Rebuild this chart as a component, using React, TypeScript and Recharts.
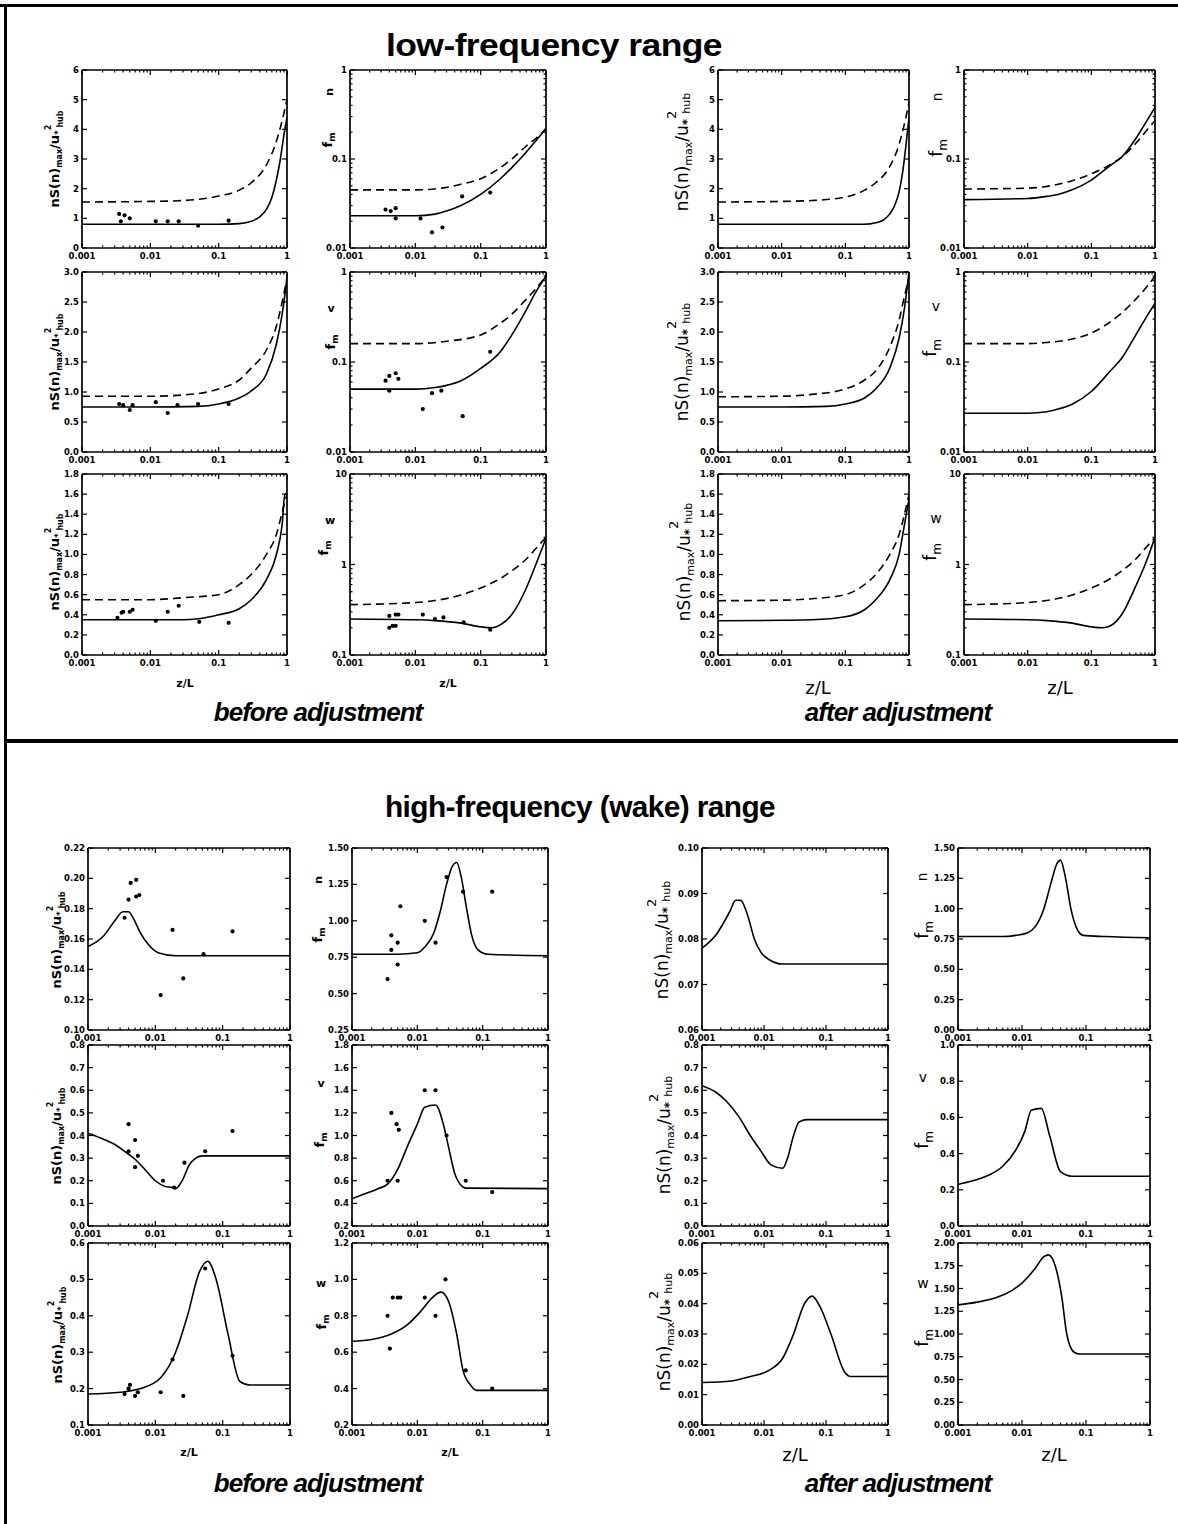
import React from 'react';
import { ComposedChart, Line, Scatter, XAxis, YAxis } from 'recharts';

type Pair = [number, number];

// ---------- axis tick labels ----------
const X_LABELS = ['0.001', '0.01', '0.1', '1'];
const Y_NS_U_LF = ['0', '1', '2', '3', '4', '5', '6'];
const Y_NS_V_LF = ['0.0', '0.5', '1.0', '1.5', '2.0', '2.5', '3.0'];
const Y_NS_W_LF = ['0.0', '0.2', '0.4', '0.6', '0.8', '1.0', '1.2', '1.4', '1.6', '1.8'];
const Y_FM_UV_LF = ['0.01', '0.1', '1'];
const Y_FM_W_LF = ['0.1', '1', '10'];
const Y_NS_U_HF_B = ['0.10', '0.12', '0.14', '0.16', '0.18', '0.20', '0.22'];
const Y_FM_U_HF_B = ['0.25', '0.50', '0.75', '1.00', '1.25', '1.50'];
const Y_NS_U_HF_A = ['0.06', '0.07', '0.08', '0.09', '0.10'];
const Y_FM_U_HF_A = ['0.00', '0.25', '0.50', '0.75', '1.00', '1.25', '1.50'];
const Y_NS_V_HF = ['0.0', '0.1', '0.2', '0.3', '0.4', '0.5', '0.6', '0.7', '0.8'];
const Y_FM_V_HF_B = ['0.2', '0.4', '0.6', '0.8', '1.0', '1.2', '1.4', '1.6', '1.8'];
const Y_FM_V_HF_A = ['0.0', '0.2', '0.4', '0.6', '0.8', '1.0'];
const Y_NS_W_HF_B = ['0.1', '0.2', '0.3', '0.4', '0.5', '0.6'];
const Y_FM_W_HF_B = ['0.2', '0.4', '0.6', '0.8', '1.0', '1.2'];
const Y_NS_W_HF_A = ['0.00', '0.01', '0.02', '0.03', '0.04', '0.05', '0.06'];
const Y_FM_W_HF_A = ['0.00', '0.25', '0.50', '0.75', '1.00', '1.25', '1.50', '1.75', '2.00'];

// ---------- low-frequency range, before adjustment ----------
const lfB_nsU_solid: Pair[] = [[0.001, 0.8], [0.01, 0.8], [0.1, 0.8], [0.2, 0.82], [0.3, 0.9], [0.4, 1.05], [0.5, 1.3], [0.6, 1.7], [0.7, 2.3], [0.8, 3.0], [0.9, 3.8], [1, 4.4]];
const lfB_nsU_dashed: Pair[] = [[0.001, 1.55], [0.01, 1.57], [0.03, 1.6], [0.1, 1.75], [0.2, 1.95], [0.3, 2.2], [0.5, 2.8], [0.7, 3.6], [0.85, 4.3], [1, 5.0]];
const lfB_nsU_dots: Pair[] = [[0.0035, 1.15], [0.0042, 1.1], [0.005, 1.0], [0.0037, 0.9], [0.012, 0.9], [0.018, 0.9], [0.026, 0.9], [0.05, 0.75], [0.14, 0.92]];

const lfB_fmU_solid: Pair[] = [[0.001, 0.023], [0.01, 0.023], [0.02, 0.024], [0.03, 0.026], [0.05, 0.03], [0.1, 0.04], [0.2, 0.06], [0.3, 0.08], [0.5, 0.12], [0.7, 0.16], [1, 0.22]];
const lfB_fmU_dashed: Pair[] = [[0.001, 0.045], [0.01, 0.045], [0.03, 0.048], [0.05, 0.052], [0.1, 0.06], [0.2, 0.08], [0.3, 0.1], [0.5, 0.14], [0.7, 0.17], [1, 0.22]];
const lfB_fmU_dots: Pair[] = [[0.0035, 0.027], [0.0042, 0.026], [0.005, 0.028], [0.005, 0.0215], [0.012, 0.0215], [0.018, 0.015], [0.026, 0.017], [0.052, 0.038], [0.14, 0.042]];

const lfB_nsV_solid: Pair[] = [[0.001, 0.75], [0.01, 0.75], [0.05, 0.76], [0.1, 0.8], [0.2, 0.9], [0.3, 1.02], [0.5, 1.3], [0.7, 1.8], [0.85, 2.3], [1, 2.9]];
const lfB_nsV_dashed: Pair[] = [[0.001, 0.93], [0.01, 0.93], [0.03, 0.95], [0.1, 1.05], [0.2, 1.2], [0.3, 1.4], [0.5, 1.7], [0.7, 2.1], [0.85, 2.5], [1, 2.9]];
const lfB_nsV_dots: Pair[] = [[0.0035, 0.8], [0.004, 0.78], [0.005, 0.7], [0.0055, 0.78], [0.012, 0.83], [0.018, 0.65], [0.025, 0.78], [0.05, 0.8], [0.14, 0.8]];

const lfB_fmV_solid: Pair[] = [[0.001, 0.05], [0.01, 0.05], [0.02, 0.052], [0.03, 0.055], [0.05, 0.062], [0.1, 0.085], [0.2, 0.13], [0.3, 0.2], [0.5, 0.38], [0.7, 0.6], [1, 0.9]];
const lfB_fmV_dashed: Pair[] = [[0.001, 0.16], [0.01, 0.16], [0.03, 0.17], [0.1, 0.2], [0.2, 0.27], [0.3, 0.34], [0.5, 0.5], [0.7, 0.65], [1, 0.9]];
const lfB_fmV_dots: Pair[] = [[0.0035, 0.062], [0.004, 0.07], [0.005, 0.075], [0.0055, 0.065], [0.004, 0.048], [0.013, 0.03], [0.018, 0.045], [0.025, 0.048], [0.053, 0.025], [0.14, 0.13]];

const lfB_nsW_solid: Pair[] = [[0.001, 0.35], [0.01, 0.35], [0.03, 0.35], [0.05, 0.36], [0.1, 0.4], [0.2, 0.46], [0.3, 0.55], [0.5, 0.75], [0.7, 1.0], [0.85, 1.3], [0.93, 1.6], [1, 1.6]];
const lfB_nsW_dashed: Pair[] = [[0.001, 0.55], [0.01, 0.55], [0.03, 0.57], [0.1, 0.6], [0.2, 0.7], [0.3, 0.8], [0.5, 1.0], [0.7, 1.2], [0.85, 1.42], [1, 1.6]];
const lfB_nsW_dots: Pair[] = [[0.0033, 0.37], [0.0038, 0.42], [0.004, 0.43], [0.005, 0.43], [0.0055, 0.45], [0.012, 0.34], [0.018, 0.43], [0.026, 0.49], [0.052, 0.33], [0.14, 0.32]];

const lfB_fmW_solid: Pair[] = [[0.001, 0.25], [0.01, 0.245], [0.02, 0.24], [0.05, 0.225], [0.1, 0.205], [0.15, 0.2], [0.2, 0.215], [0.3, 0.28], [0.5, 0.55], [0.7, 1.0], [1, 1.95]];
const lfB_fmW_dashed: Pair[] = [[0.001, 0.36], [0.01, 0.38], [0.02, 0.4], [0.05, 0.46], [0.1, 0.55], [0.2, 0.7], [0.3, 0.85], [0.5, 1.15], [0.7, 1.5], [1, 2.0]];
const lfB_fmW_dots: Pair[] = [[0.004, 0.27], [0.005, 0.28], [0.0055, 0.28], [0.004, 0.2], [0.0045, 0.21], [0.005, 0.21], [0.013, 0.28], [0.02, 0.25], [0.027, 0.26], [0.055, 0.23], [0.14, 0.19], [1, 0.98]];

// ---------- low-frequency range, after adjustment ----------
const lfA_nsU_solid: Pair[] = [[0.001, 0.8], [0.1, 0.8], [0.2, 0.8], [0.3, 0.85], [0.4, 0.95], [0.5, 1.15], [0.6, 1.45], [0.7, 1.9], [0.8, 2.6], [0.9, 3.5], [1, 4.4]];
const lfA_nsU_dashed: Pair[] = [[0.001, 1.55], [0.01, 1.57], [0.03, 1.6], [0.1, 1.72], [0.2, 1.95], [0.3, 2.2], [0.5, 2.75], [0.7, 3.5], [0.85, 4.2], [1, 4.9]];
const lfA_fmU_solid: Pair[] = [[0.001, 0.035], [0.01, 0.036], [0.02, 0.038], [0.03, 0.04], [0.05, 0.045], [0.1, 0.058], [0.2, 0.085], [0.3, 0.105], [0.5, 0.17], [0.7, 0.25], [1, 0.38]];
const lfA_fmU_dashed: Pair[] = [[0.001, 0.046], [0.01, 0.047], [0.03, 0.052], [0.05, 0.057], [0.1, 0.068], [0.2, 0.087], [0.3, 0.105], [0.5, 0.15], [0.7, 0.2], [1, 0.27]];
const lfA_nsV_solid: Pair[] = [[0.001, 0.75], [0.01, 0.75], [0.05, 0.76], [0.1, 0.8], [0.2, 0.9], [0.3, 1.05], [0.5, 1.4], [0.7, 1.9], [0.85, 2.4], [1, 3.0]];
const lfA_nsV_dashed: Pair[] = [[0.001, 0.92], [0.01, 0.93], [0.03, 0.96], [0.1, 1.05], [0.2, 1.2], [0.3, 1.35], [0.5, 1.75], [0.7, 2.2], [0.85, 2.6], [1, 2.9]];
const lfA_fmV_solid: Pair[] = [[0.001, 0.027], [0.01, 0.027], [0.02, 0.028], [0.03, 0.03], [0.05, 0.034], [0.1, 0.047], [0.2, 0.08], [0.3, 0.11], [0.5, 0.2], [0.7, 0.3], [1, 0.45]];
const lfA_fmV_dashed: Pair[] = [[0.001, 0.16], [0.01, 0.16], [0.02, 0.165], [0.05, 0.18], [0.1, 0.21], [0.2, 0.28], [0.3, 0.35], [0.5, 0.5], [0.7, 0.65], [1, 0.9]];
const lfA_nsW_solid: Pair[] = [[0.001, 0.34], [0.01, 0.345], [0.03, 0.35], [0.1, 0.38], [0.2, 0.45], [0.3, 0.55], [0.5, 0.75], [0.7, 1.0], [0.85, 1.3], [1, 1.55]];
const lfA_nsW_dashed: Pair[] = [[0.001, 0.54], [0.01, 0.545], [0.03, 0.56], [0.1, 0.6], [0.2, 0.7], [0.3, 0.8], [0.5, 1.0], [0.7, 1.2], [0.85, 1.4], [1, 1.6]];
const lfA_fmW_solid: Pair[] = [[0.001, 0.25], [0.01, 0.245], [0.02, 0.24], [0.05, 0.225], [0.1, 0.205], [0.15, 0.2], [0.2, 0.21], [0.3, 0.28], [0.5, 0.58], [0.7, 1.0], [1, 2.0]];
const lfA_fmW_dashed: Pair[] = [[0.001, 0.36], [0.01, 0.38], [0.02, 0.4], [0.05, 0.46], [0.1, 0.55], [0.2, 0.7], [0.3, 0.85], [0.5, 1.15], [0.7, 1.5], [1, 2.0]];

// ---------- high-frequency (wake) range, before adjustment ----------
const hfB_nsU_solid: Pair[] = [[0.001, 0.155], [0.0017, 0.162], [0.0025, 0.172], [0.0033, 0.178], [0.004, 0.178], [0.0048, 0.173], [0.006, 0.164], [0.008, 0.156], [0.011, 0.151], [0.02, 0.149], [0.1, 0.149], [1, 0.149]];
const hfB_nsU_dots: Pair[] = [[0.0035, 0.174], [0.004, 0.186], [0.0043, 0.197], [0.0052, 0.199], [0.0052, 0.188], [0.0058, 0.189], [0.012, 0.123], [0.018, 0.166], [0.026, 0.134], [0.052, 0.15], [0.14, 0.165]];
const hfB_fmU_solid: Pair[] = [[0.001, 0.77], [0.005, 0.77], [0.01, 0.78], [0.013, 0.82], [0.018, 0.92], [0.022, 1.05], [0.028, 1.25], [0.034, 1.37], [0.04, 1.4], [0.047, 1.3], [0.056, 1.1], [0.068, 0.9], [0.085, 0.8], [0.12, 0.77], [1, 0.76]];
const hfB_fmU_dots: Pair[] = [[0.0035, 0.6], [0.004, 0.8], [0.004, 0.9], [0.005, 0.7], [0.005, 0.85], [0.0055, 1.1], [0.013, 1.0], [0.019, 0.85], [0.028, 1.3], [0.05, 1.2], [0.14, 1.2]];
const hfB_nsV_solid: Pair[] = [[0.001, 0.41], [0.0015, 0.39], [0.0025, 0.36], [0.0035, 0.33], [0.005, 0.295], [0.007, 0.25], [0.01, 0.2], [0.014, 0.175], [0.018, 0.17], [0.02, 0.165], [0.025, 0.2], [0.032, 0.27], [0.04, 0.3], [0.05, 0.31], [1, 0.31]];
const hfB_nsV_dots: Pair[] = [[0.004, 0.45], [0.004, 0.33], [0.005, 0.38], [0.005, 0.26], [0.0055, 0.31], [0.013, 0.2], [0.019, 0.17], [0.027, 0.28], [0.055, 0.33], [0.14, 0.42]];
const hfB_fmV_solid: Pair[] = [[0.001, 0.44], [0.0015, 0.48], [0.0025, 0.53], [0.0035, 0.57], [0.005, 0.7], [0.007, 0.9], [0.01, 1.1], [0.013, 1.25], [0.019, 1.27], [0.025, 1.1], [0.03, 0.9], [0.038, 0.65], [0.045, 0.57], [0.055, 0.535], [1, 0.53]];
const hfB_fmV_dots: Pair[] = [[0.0035, 0.6], [0.004, 1.2], [0.0048, 1.1], [0.0052, 1.05], [0.005, 0.6], [0.013, 1.4], [0.019, 1.4], [0.028, 1.0], [0.055, 0.6], [0.14, 0.5]];
const hfB_nsW_solid: Pair[] = [[0.001, 0.185], [0.003, 0.19], [0.006, 0.2], [0.012, 0.23], [0.02, 0.3], [0.03, 0.4], [0.045, 0.52], [0.06, 0.55], [0.08, 0.5], [0.12, 0.35], [0.18, 0.22], [0.25, 0.21], [1, 0.21]];
const hfB_nsW_dots: Pair[] = [[0.0035, 0.185], [0.004, 0.2], [0.0042, 0.21], [0.005, 0.18], [0.0055, 0.19], [0.012, 0.19], [0.018, 0.28], [0.026, 0.18], [0.055, 0.53], [0.14, 0.29]];
const hfB_fmW_solid: Pair[] = [[0.001, 0.66], [0.002, 0.67], [0.004, 0.7], [0.007, 0.75], [0.011, 0.82], [0.017, 0.9], [0.023, 0.93], [0.03, 0.88], [0.04, 0.7], [0.05, 0.5], [0.065, 0.42], [0.08, 0.39], [1, 0.39]];
const hfB_fmW_dots: Pair[] = [[0.0035, 0.8], [0.0038, 0.62], [0.0042, 0.9], [0.005, 0.9], [0.0055, 0.9], [0.013, 0.9], [0.019, 0.8], [0.027, 1.0], [0.055, 0.5], [0.14, 0.4]];

// ---------- high-frequency (wake) range, after adjustment ----------
const hfA_nsU_solid: Pair[] = [[0.001, 0.078], [0.0017, 0.081], [0.0028, 0.086], [0.0035, 0.0885], [0.0042, 0.0885], [0.0055, 0.085], [0.007, 0.08], [0.009, 0.077], [0.012, 0.0755], [0.02, 0.0745], [1, 0.0745]];
const hfA_fmU_solid: Pair[] = [[0.001, 0.77], [0.005, 0.77], [0.008, 0.78], [0.012, 0.8], [0.016, 0.85], [0.022, 1.0], [0.028, 1.2], [0.035, 1.37], [0.04, 1.4], [0.048, 1.25], [0.058, 1.0], [0.07, 0.85], [0.09, 0.78], [0.2, 0.77], [1, 0.76]];
const hfA_nsV_solid: Pair[] = [[0.001, 0.62], [0.0017, 0.59], [0.0025, 0.55], [0.004, 0.48], [0.006, 0.4], [0.009, 0.33], [0.013, 0.27], [0.02, 0.255], [0.024, 0.3], [0.03, 0.4], [0.037, 0.46], [0.05, 0.47], [1, 0.47]];
const hfA_fmV_solid: Pair[] = [[0.001, 0.23], [0.0017, 0.25], [0.003, 0.28], [0.005, 0.33], [0.008, 0.42], [0.011, 0.52], [0.014, 0.64], [0.02, 0.65], [0.027, 0.5], [0.04, 0.3], [0.06, 0.275], [1, 0.275]];
const hfA_nsW_solid: Pair[] = [[0.001, 0.014], [0.003, 0.0145], [0.006, 0.016], [0.012, 0.018], [0.02, 0.022], [0.03, 0.03], [0.045, 0.04], [0.06, 0.0425], [0.08, 0.039], [0.12, 0.03], [0.2, 0.0175], [0.25, 0.016], [1, 0.016]];
const hfA_fmW_solid: Pair[] = [[0.001, 1.32], [0.002, 1.35], [0.004, 1.4], [0.007, 1.48], [0.01, 1.56], [0.016, 1.72], [0.022, 1.85], [0.026, 1.87], [0.033, 1.75], [0.042, 1.4], [0.05, 1.0], [0.065, 0.8], [0.08, 0.78], [1, 0.78]];

// ---------- helpers ----------
const toPts = (arr: Pair[]) => arr.map(([x, y]) => ({ x, y }));
const near = (a: number, b: number) => Math.abs(a - b) <= 1e-9 + 1e-6 * Math.abs(b);

function decadeTicks(lo: number, hi: number) {
  const out: number[] = [];
  const k0 = Math.round(Math.log10(lo));
  const k1 = Math.round(Math.log10(hi));
  for (let k = k0; k < k1; k++) {
    for (let m = 1; m < 10; m++) out.push(Number((m * Math.pow(10, k)).toPrecision(4)));
  }
  out.push(hi);
  return out;
}

const X_MAJOR = X_LABELS.map(Number);
const X_TICKS = decadeTicks(0.001, 1);
const AXIS = { stroke: '#000', strokeWidth: 1.7 };
const TICK_FONT = { fontFamily: 'DejaVu Sans', fontWeight: 700, fontSize: 8.5, fill: '#000' };

function FrameTick(props: any) {
  const { x, y, payload, side, majors, labels } = props;
  const v = Number(payload?.value);
  const i = majors.findIndex((m: number) => near(v, m));
  const len = i >= 0 ? 5 : 2.5;
  let x2 = x;
  let y2 = y;
  if (side === 'bottom') y2 = y - len;
  if (side === 'top') y2 = y + len;
  if (side === 'left') x2 = x + len;
  if (side === 'right') x2 = x - len;
  const label = labels && i >= 0 ? labels[i] : null;
  return (
    <g>
      <line x1={x} y1={y} x2={x2} y2={y2} stroke="#000" strokeWidth={1.2} />
      {label != null && side === 'bottom' && (
        <text x={x} y={y + 11} textAnchor="middle" {...TICK_FONT}>{label}</text>
      )}
      {label != null && side === 'left' && (
        <text x={x - 3} y={y + 3} textAnchor="end" {...TICK_FONT}>{label}</text>
      )}
    </g>
  );
}

const dotShape = (p: any) => <circle cx={p.cx} cy={p.cy} r={2.1} fill="#000" />;

interface PanelCfg {
  box: [number, number, number, number];
  yScale: 'linear' | 'log';
  yLabels: string[];
  solid: Pair[];
  dashed?: Pair[];
  dots?: Pair[];
}

const LW = 36;
const RW = 4;
const TH = 4;
const BH = 18;

function Panel({ cfg }: { cfg: PanelCfg }) {
  const [bx, by, bw, bh] = cfg.box;
  const majors = cfg.yLabels.map(Number);
  const domain = [majors[0], majors[majors.length - 1]];
  const yTicks = cfg.yScale === 'log' ? decadeTicks(domain[0], domain[1]) : majors;
  const common = { type: 'number' as const, allowDataOverflow: true, interval: 0 as const, tickSize: 0, tickMargin: 0, tickLine: false, axisLine: AXIS };
  return (
    <div style={{ position: 'absolute', left: bx - LW, top: by - TH }}>
      <ComposedChart width={bw + LW + RW} height={bh + TH + BH} margin={{ top: 0, right: 0, bottom: 0, left: 0 }}>
        <XAxis {...common} xAxisId="b" dataKey="x" scale="log" domain={[0.001, 1]} ticks={X_TICKS} height={BH}
          tick={(p: any) => <FrameTick {...p} side="bottom" majors={X_MAJOR} labels={X_LABELS} />} />
        <XAxis {...common} xAxisId="t" orientation="top" dataKey="x" scale="log" domain={[0.001, 1]} ticks={X_TICKS} height={TH}
          tick={(p: any) => <FrameTick {...p} side="top" majors={X_MAJOR} />} />
        <YAxis {...common} yAxisId="l" dataKey="y" scale={cfg.yScale} domain={domain} ticks={yTicks} width={LW}
          tick={(p: any) => <FrameTick {...p} side="left" majors={majors} labels={cfg.yLabels} />} />
        <YAxis {...common} yAxisId="r" orientation="right" dataKey="y" scale={cfg.yScale} domain={domain} ticks={yTicks} width={RW}
          tick={(p: any) => <FrameTick {...p} side="right" majors={majors} />} />
        {cfg.dashed && (
          <Line xAxisId="b" yAxisId="l" data={toPts(cfg.dashed)} dataKey="y" type="monotone" stroke="#000"
            strokeWidth={1.6} strokeDasharray="8 5" dot={false} activeDot={false} isAnimationActive={false} />
        )}
        <Line xAxisId="b" yAxisId="l" data={toPts(cfg.solid)} dataKey="y" type="monotone" stroke="#000"
          strokeWidth={1.6} dot={false} activeDot={false} isAnimationActive={false} />
        {cfg.dots && (
          <Scatter xAxisId="b" yAxisId="l" data={toPts(cfg.dots)} dataKey="y" shape={dotShape} isAnimationActive={false} />
        )}
      </ComposedChart>
    </div>
  );
}

// ---------- layout ----------
const LF_COLS = [[82, 205], [350, 196], [718, 191], [964, 191]];
const LF_ROWS = [[70, 178], [272, 180], [474, 181]];
const HF_COLS = [[88, 202], [352, 196], [702, 186], [958, 192]];
const HF_ROWS = [[848, 182], [1045, 181], [1243, 182]];

const box = (cols: number[][], rows: number[][], c: number, r: number): [number, number, number, number] =>
  [cols[c][0], rows[r][0], cols[c][1], rows[r][1]];

const PANELS: PanelCfg[] = [
  { box: box(LF_COLS, LF_ROWS, 0, 0), yScale: 'linear', yLabels: Y_NS_U_LF, solid: lfB_nsU_solid, dashed: lfB_nsU_dashed, dots: lfB_nsU_dots },
  { box: box(LF_COLS, LF_ROWS, 1, 0), yScale: 'log', yLabels: Y_FM_UV_LF, solid: lfB_fmU_solid, dashed: lfB_fmU_dashed, dots: lfB_fmU_dots },
  { box: box(LF_COLS, LF_ROWS, 2, 0), yScale: 'linear', yLabels: Y_NS_U_LF, solid: lfA_nsU_solid, dashed: lfA_nsU_dashed },
  { box: box(LF_COLS, LF_ROWS, 3, 0), yScale: 'log', yLabels: Y_FM_UV_LF, solid: lfA_fmU_solid, dashed: lfA_fmU_dashed },
  { box: box(LF_COLS, LF_ROWS, 0, 1), yScale: 'linear', yLabels: Y_NS_V_LF, solid: lfB_nsV_solid, dashed: lfB_nsV_dashed, dots: lfB_nsV_dots },
  { box: box(LF_COLS, LF_ROWS, 1, 1), yScale: 'log', yLabels: Y_FM_UV_LF, solid: lfB_fmV_solid, dashed: lfB_fmV_dashed, dots: lfB_fmV_dots },
  { box: box(LF_COLS, LF_ROWS, 2, 1), yScale: 'linear', yLabels: Y_NS_V_LF, solid: lfA_nsV_solid, dashed: lfA_nsV_dashed },
  { box: box(LF_COLS, LF_ROWS, 3, 1), yScale: 'log', yLabels: Y_FM_UV_LF, solid: lfA_fmV_solid, dashed: lfA_fmV_dashed },
  { box: box(LF_COLS, LF_ROWS, 0, 2), yScale: 'linear', yLabels: Y_NS_W_LF, solid: lfB_nsW_solid, dashed: lfB_nsW_dashed, dots: lfB_nsW_dots },
  { box: box(LF_COLS, LF_ROWS, 1, 2), yScale: 'log', yLabels: Y_FM_W_LF, solid: lfB_fmW_solid, dashed: lfB_fmW_dashed, dots: lfB_fmW_dots },
  { box: box(LF_COLS, LF_ROWS, 2, 2), yScale: 'linear', yLabels: Y_NS_W_LF, solid: lfA_nsW_solid, dashed: lfA_nsW_dashed },
  { box: box(LF_COLS, LF_ROWS, 3, 2), yScale: 'log', yLabels: Y_FM_W_LF, solid: lfA_fmW_solid, dashed: lfA_fmW_dashed },

  { box: box(HF_COLS, HF_ROWS, 0, 0), yScale: 'linear', yLabels: Y_NS_U_HF_B, solid: hfB_nsU_solid, dots: hfB_nsU_dots },
  { box: box(HF_COLS, HF_ROWS, 1, 0), yScale: 'linear', yLabels: Y_FM_U_HF_B, solid: hfB_fmU_solid, dots: hfB_fmU_dots },
  { box: box(HF_COLS, HF_ROWS, 2, 0), yScale: 'linear', yLabels: Y_NS_U_HF_A, solid: hfA_nsU_solid },
  { box: box(HF_COLS, HF_ROWS, 3, 0), yScale: 'linear', yLabels: Y_FM_U_HF_A, solid: hfA_fmU_solid },
  { box: box(HF_COLS, HF_ROWS, 0, 1), yScale: 'linear', yLabels: Y_NS_V_HF, solid: hfB_nsV_solid, dots: hfB_nsV_dots },
  { box: box(HF_COLS, HF_ROWS, 1, 1), yScale: 'linear', yLabels: Y_FM_V_HF_B, solid: hfB_fmV_solid, dots: hfB_fmV_dots },
  { box: box(HF_COLS, HF_ROWS, 2, 1), yScale: 'linear', yLabels: Y_NS_V_HF, solid: hfA_nsV_solid },
  { box: box(HF_COLS, HF_ROWS, 3, 1), yScale: 'linear', yLabels: Y_FM_V_HF_A, solid: hfA_fmV_solid },
  { box: box(HF_COLS, HF_ROWS, 0, 2), yScale: 'linear', yLabels: Y_NS_W_HF_B, solid: hfB_nsW_solid, dots: hfB_nsW_dots },
  { box: box(HF_COLS, HF_ROWS, 1, 2), yScale: 'linear', yLabels: Y_FM_W_HF_B, solid: hfB_fmW_solid, dots: hfB_fmW_dots },
  { box: box(HF_COLS, HF_ROWS, 2, 2), yScale: 'linear', yLabels: Y_NS_W_HF_A, solid: hfA_nsW_solid },
  { box: box(HF_COLS, HF_ROWS, 3, 2), yScale: 'linear', yLabels: Y_FM_W_HF_A, solid: hfA_fmW_solid },
];

// ---------- axis titles ----------
const rot = (cx: number, cy: number) => `translate(${cx},${cy}) rotate(-90)`;

function NsSmall({ cx, cy }: { cx: number; cy: number }) {
  return (
    <text transform={rot(cx, cy)} y={4} textAnchor="middle" fontFamily="DejaVu Sans" fontWeight={700} fontSize={13}>
      nS(n)<tspan fontSize={8} dy={3}>max</tspan>
      <tspan dy={-3}>/u</tspan>
      <tspan fontSize={9} dy={2}>*</tspan>
      <tspan fontSize={8} dy={-10}>2</tspan>
      <tspan fontSize={8} dy={12} dx={-3}>hub</tspan>
    </text>
  );
}

function NsLarge({ cx, cy }: { cx: number; cy: number }) {
  return (
    <text transform={rot(cx, cy)} y={6} textAnchor="middle" fontFamily="DejaVu Sans" fontSize={17}>
      nS(n)<tspan fontSize={11} dy={4}>max</tspan>
      <tspan dy={-4}>/u</tspan>
      <tspan fontSize={12} fontWeight={700} dy={3}>*</tspan>
      <tspan fontSize={13} dy={-15}>2</tspan>
      <tspan fontSize={11} dy={14} dx={-3}>hub</tspan>
    </text>
  );
}

function Fm({ cx, cy, big }: { cx: number; cy: number; big?: boolean }) {
  return (
    <text transform={rot(cx, cy)} y={big ? 6 : 4} textAnchor="middle" fontFamily="DejaVu Sans" fontWeight={big ? 400 : 700} fontSize={big ? 17 : 13}>
      f<tspan fontSize={big ? 12 : 9} dy={big ? 5 : 3}>m</tspan>
    </text>
  );
}

function Comp({ cx, cy, ch, big }: { cx: number; cy: number; ch: string; big?: boolean }) {
  const t = ch === 'u' ? `translate(${cx},${cy}) rotate(90)` : `translate(${cx},${cy})`;
  return (
    <text transform={t} y={4} textAnchor="middle" fontFamily="DejaVu Sans" fontWeight={big ? 400 : 700} fontSize={big ? 14 : 11}>
      {ch}
    </text>
  );
}

function ZL({ cx, y, big }: { cx: number; y: number; big?: boolean }) {
  return (
    <text x={cx} y={y} textAnchor="middle" fontFamily="DejaVu Sans" fontWeight={big ? 400 : 700} fontSize={big ? 18 : 11}>
      z/L
    </text>
  );
}

const NS_SMALL_POS = [[55, 159], [55, 362], [55, 562], [57, 940], [57, 1136], [58, 1335]];
const NS_LARGE_POS = [[682, 152], [682, 362], [684, 562], [662, 940], [664, 1135], [664, 1332]];
const FM_SMALL_POS = [[328, 140], [331, 342], [324, 548], [318, 935], [320, 1140], [322, 1322]];
const FM_LARGE_POS = [[936, 148], [930, 348], [930, 552], [922, 930], [922, 1140], [922, 1338]];
const COMP_SMALL_POS = [[331, 92], [331, 308], [330, 520], [320, 880], [321, 1083], [321, 1283]];
const COMP_LARGE_POS = [[938, 97], [936, 307], [936, 519], [923, 877], [923, 1078], [923, 1284]];
const COMP_CHARS = ['u', 'v', 'w', 'u', 'v', 'w'];

const TITLE_FONT = { fontFamily: 'Liberation Sans, Arial, sans-serif', fontWeight: 700, fill: '#000' };

function Decorations() {
  return (
    <svg width={1178} height={1524} style={{ position: 'absolute', left: 0, top: 0 }}>
      <rect x={0} y={0} width={1178} height={1524} fill="#fff" />
      <rect x={0} y={4} width={1178} height={3} fill="#000" />
      <rect x={4} y={4} width={3} height={1520} fill="#000" />
      <rect x={4} y={739} width={1174} height={4} fill="#000" />

      <text x={386} y={56} fontSize={31} letterSpacing={-0.5} textLength={336} lengthAdjust="spacingAndGlyphs" {...TITLE_FONT}>low-frequency range</text>
      <text x={385} y={817} fontSize={30} letterSpacing={-0.6} textLength={390} lengthAdjust="spacingAndGlyphs" {...TITLE_FONT}>high-frequency (wake) range</text>

      <text x={318} y={721} textAnchor="middle" fontSize={26} fontStyle="italic" letterSpacing={-1} {...TITLE_FONT}>before adjustment</text>
      <text x={898} y={721} textAnchor="middle" fontSize={26} fontStyle="italic" letterSpacing={-1} {...TITLE_FONT}>after adjustment</text>
      <text x={318} y={1492} textAnchor="middle" fontSize={26} fontStyle="italic" letterSpacing={-1} {...TITLE_FONT}>before adjustment</text>
      <text x={898} y={1492} textAnchor="middle" fontSize={26} fontStyle="italic" letterSpacing={-1} {...TITLE_FONT}>after adjustment</text>

      {NS_SMALL_POS.map(([cx, cy], i) => <NsSmall key={`ns${i}`} cx={cx} cy={cy} />)}
      {NS_LARGE_POS.map(([cx, cy], i) => <NsLarge key={`nl${i}`} cx={cx} cy={cy} />)}
      {FM_SMALL_POS.map(([cx, cy], i) => <Fm key={`fs${i}`} cx={cx} cy={cy} />)}
      {FM_LARGE_POS.map(([cx, cy], i) => <Fm key={`fl${i}`} cx={cx} cy={cy} big />)}
      {COMP_SMALL_POS.map(([cx, cy], i) => <Comp key={`cs${i}`} cx={cx} cy={cy} ch={COMP_CHARS[i]} />)}
      {COMP_LARGE_POS.map(([cx, cy], i) => <Comp key={`cl${i}`} cx={cx} cy={cy} ch={COMP_CHARS[i]} big />)}

      <ZL cx={185} y={687} />
      <ZL cx={448} y={687} />
      <ZL cx={818} y={694} big />
      <ZL cx={1060} y={694} big />
      <ZL cx={189} y={1456} />
      <ZL cx={450} y={1456} />
      <ZL cx={795} y={1461} big />
      <ZL cx={1054} y={1461} big />
    </svg>
  );
}

export default function App() {
  return (
    <div style={{ position: 'absolute', left: 0, top: 0, width: 1178, height: 1524, background: '#fff' }}>
      <Decorations />
      {PANELS.map((cfg, i) => (
        <Panel key={i} cfg={cfg} />
      ))}
    </div>
  );
}
